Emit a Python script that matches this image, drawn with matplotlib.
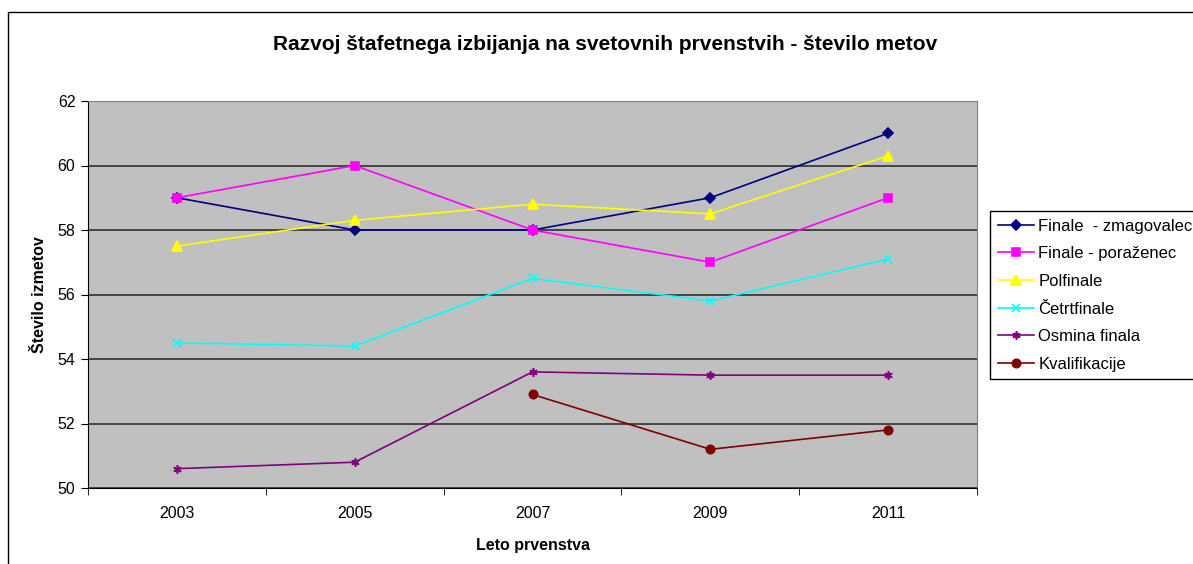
import numpy as np
import matplotlib
matplotlib.use('Agg')
import matplotlib.pyplot as plt
from matplotlib.patches import Rectangle

plt.rcParams['font.family'] = ['Liberation Sans', 'DejaVu Sans']

# podatki
leta = ['2003', '2005', '2007', '2009', '2011']
zmagovalec = [59, 58, 58, 59, 61]
porazenec = [59, 60, 58, 57, 59]
polfinale = [57.5, 58.3, 58.8, 58.5, 60.3]
cetrtfinale = [54.5, 54.4, 56.5, 55.8, 57.1]
osmina = [50.6, 50.8, 53.6, 53.5, 53.5]
kvalifikacije = [np.nan, np.nan, 52.9, 51.2, 51.8]

serije = [
    ('Finale  - zmagovalec', zmagovalec, '#000080', 'D', 5),
    ('Finale - poraženec', porazenec, '#FF00FF', 's', 6),
    ('Polfinale', polfinale, '#FFFF00', '^', 7),
    ('Četrtfinale', cetrtfinale, '#00FFFF', 'x', 6),
    ('Osmina finala', osmina, '#800080', (6, 2, 0), 6),
    ('Kvalifikacije', kvalifikacije, '#800000', 'o', 6),
]

fig = plt.figure(figsize=(11.93, 5.64), dpi=100)
fig.patch.set_facecolor('white')

# okvir grafikona
fig.add_artist(Rectangle((8 / 1193, -0.1), 1.2, 1 - 12 / 564 + 0.1,
                         transform=fig.transFigure, fill=False,
                         edgecolor='black', linewidth=1, clip_on=False))

ax = fig.add_axes([88 / 1193, 1 - 488 / 564, 889 / 1193, 387 / 564])
ax.set_facecolor('#C0C0C0')

x = np.arange(len(leta))
for ime, y, barva, marker, ms in serije:
    ax.plot(x, y, color=barva, marker=marker, markersize=ms, linewidth=1.2,
            markeredgewidth=1.2, label=ime)

ax.set_xlim(-0.5, 4.5)
ax.set_ylim(50, 62)
ax.set_yticks(np.arange(50, 63, 2))
ax.yaxis.grid(True, color='#303030', linewidth=1.2)
ax.set_axisbelow(True)

ax.set_xticks(x)
ax.set_xticklabels(leta)
ax.set_xticks(np.arange(-0.5, 5, 1), minor=True)
ax.tick_params(axis='x', which='major', length=0, pad=13, labelsize=11.5)
ax.tick_params(axis='x', which='minor', length=5, direction='out')
ax.tick_params(axis='y', length=5, direction='out', labelsize=11.5, pad=4)

for s in ['top', 'right']:
    ax.spines[s].set_color('#808080')
ax.spines['left'].set_color('black')
ax.spines['bottom'].set_color('black')

ax.set_xlabel('Leto prvenstva', fontsize=11.5, weight='bold', labelpad=12)
ax.set_ylabel('Število izmetov', fontsize=11.5, weight='bold', labelpad=8)

fig.text(605 / 1193, 1 - 44 / 564, 'Razvoj štafetnega izbijanja na svetovnih prvenstvih - število metov',
         ha='center', va='center', fontsize=15, weight='bold')

leg = ax.legend(loc='upper left', bbox_to_anchor=(990 / 1193, 1 - 211 / 564),
                bbox_transform=fig.transFigure, fontsize=12, frameon=True,
                fancybox=False, edgecolor='black', framealpha=1,
                labelspacing=0.76, handlelength=2.2, handletextpad=0.25,
                borderpad=0.45, borderaxespad=0)
leg.get_frame().set_linewidth(1)

fig.savefig('out.png', dpi=100)
